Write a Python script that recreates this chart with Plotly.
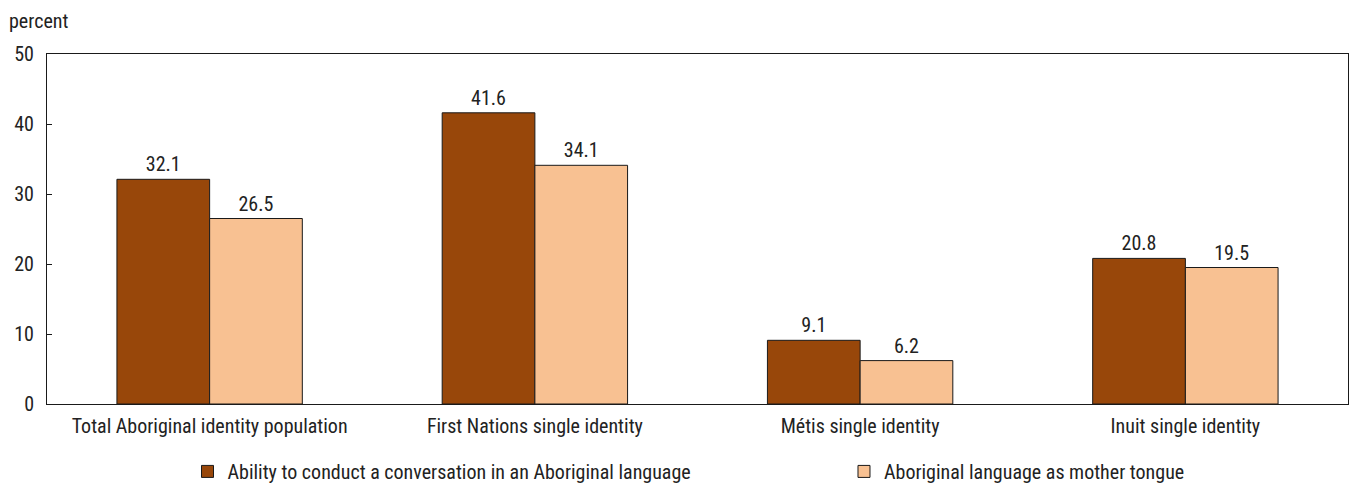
import plotly.graph_objects as go

categories = ["Total Aboriginal identity population", "First Nations single identity",
              "Métis single identity", "Inuit single identity"]
series_names = ["Ability to conduct a conversation in an Aboriginal language",
                "Aboriginal language as mother tongue"]
ability = [32.1, 41.6, 9.1, 20.8]
mother_tongue = [26.5, 34.1, 6.2, 19.5]
y_ticks = [0, 10, 20, 30, 40, 50]

FONT = "Liberation Sans Narrow, Roboto Condensed, Arial Narrow, Roboto, sans-serif"
FS = 20
colors = ["#98470A", "#F8C192"]
legend_ids = ["legend", "legend2"]

fig = go.Figure()
for name, vals, col, lg in zip(series_names, [ability, mother_tongue], colors, legend_ids):
    fig.add_trace(go.Bar(
        x=categories, y=vals, name=name, legend=lg,
        marker=dict(color=col, line=dict(color="#1a1a1a", width=1)),
        text=[f"{v:.1f}" for v in vals], textposition="outside",
        textfont=dict(size=FS, color="#222222", family=FONT),
        cliponaxis=False,
    ))

leg_common = dict(orientation="h", yref="container", y=0.024, xanchor="left", yanchor="middle",
                  font=dict(size=FS, color="#222222", family=FONT), bgcolor="rgba(0,0,0,0)")

fig.update_layout(
    width=1351, height=483,
    margin=dict(l=47, r=3, t=54, b=79),
    paper_bgcolor="white", plot_bgcolor="white",
    barmode="group", bargap=0.43, bargroupgap=0,
    font=dict(family=FONT, size=FS, color="#222222"),
    showlegend=True,
    legend=dict(x=0.108, **leg_common),
    legend2=dict(x=0.6126, **leg_common),
    xaxis=dict(showline=True, linecolor="#1a1a1a", linewidth=1, mirror=True,
               ticks="", ticklabelstandoff=4, tickfont=dict(size=FS, color="#222222")),
    yaxis=dict(range=[0, 50], tickvals=y_ticks, showgrid=False, zeroline=False,
               showline=True, linecolor="#1a1a1a", linewidth=1, mirror=True,
               ticks="inside", ticklen=5, tickcolor="#1a1a1a", ticklabelstandoff=8,
               tickfont=dict(size=FS, color="#222222")),
    annotations=[dict(text="percent", xref="paper", yref="paper", x=-0.0305, y=1.055,
                      xanchor="left", yanchor="bottom", showarrow=False,
                      font=dict(size=FS, color="#222222", family=FONT))],
)

fig.write_html("out.html")
